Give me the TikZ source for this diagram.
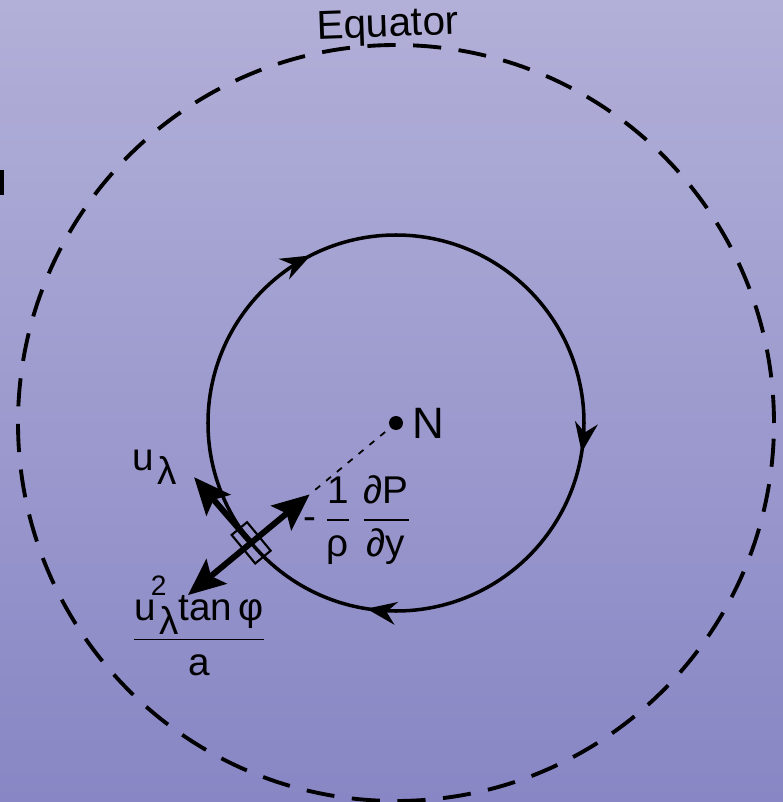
\documentclass[tikz,border=0pt]{standalone}
\usepackage{amsmath}
\usepackage{fontspec}
\setmainfont{Liberation Sans}
\usetikzlibrary{arrows.meta,decorations.markings,calc}
\definecolor{bgtop}{RGB}{178,176,216}
\definecolor{bgbot}{RGB}{136,134,196}
\newcommand{\tx}[1]{\text{#1}}
\newcommand{\lowlam}{\raisebox{-4pt}{λ}}
\begin{document}
\begin{tikzpicture}[x=0.01cm,y=0.01cm,
  lbl/.style={font=\fontsize{11}{13}\selectfont, inner sep=0pt},
  equator/.style={line width=1.1pt, dash pattern=on 8pt off 5pt},
  orbit/.style={line width=1pt, postaction={decorate}, decoration={markings,
    mark=at position 0.275 with {\arrow{Stealth[length=8.5pt,width=6.5pt]}},
    mark=at position 0.525 with {\arrow{Stealth[length=8.5pt,width=6.5pt]}},
    mark=at position 0.925 with {\arrow{Stealth[length=8.5pt,width=6.5pt]}}}},
  force/.style={line width=1.7pt, -{Stealth[length=10.5pt,width=9pt,inset=2pt]}}]
\shade[top color=bgtop, bottom color=bgbot] (0,0) rectangle (783,802);
\useasboundingbox (0,0) rectangle (783,802);
\draw[line width=1.2pt] (2,632) -- (2,607);
% pole and circles
\coordinate (N) at (396,379);
\draw[equator] (N) circle[radius=378];
\draw[orbit] (N) ++(90:188) arc[start angle=90, end angle=-270, radius=188];
\fill (N) circle (7);
\node[lbl, font=\fontsize{12.5}{14}\selectfont] (Nlbl) at (428,379) {N};
\node[lbl, font=\fontsize{11.5}{13}\selectfont, rotate=2] (eq) at (388,775) {Equator};
% parcel and forces
\coordinate (P) at ($(N)+(219.6:188)$);
\node[draw, line width=0.6pt, minimum width=0.37cm, minimum height=0.2cm,
  inner sep=0pt, rotate=-50.4] (box) at (P) {};
\coordinate (pg) at ($(P)+(39.6:76)$);
\coordinate (cf) at ($(P)+(219.6:82)$);
\coordinate (ul) at ($(P)+(131:87)$);
\draw[line width=0.5pt, dash pattern=on 1.8pt off 2.2pt] (N) -- (pg);
\draw[force] (P) -- (pg);
\draw[force] (P) -- (cf);
\draw[force] (P) -- (ul);
\node[lbl] (ulbl) at (155,335) {u\kern1pt\lowlam};
\node[lbl] (pglbl) at (358,282) {$\tx{-}\,\dfrac{\tx{1}}{\tx{ρ}}\,\dfrac{\tx{∂P}}{\tx{∂y}}$};
\node[lbl] (cflbl) at (199,176) {$\dfrac{\tx{u\makebox[0pt][l]{\kern-1.4pt\raisebox{7pt}{\fontsize{8}{9}\selectfont 2}}\kern1pt\lowlam tan\,φ}}{\tx{a}}$};
\end{tikzpicture}
\end{document}
